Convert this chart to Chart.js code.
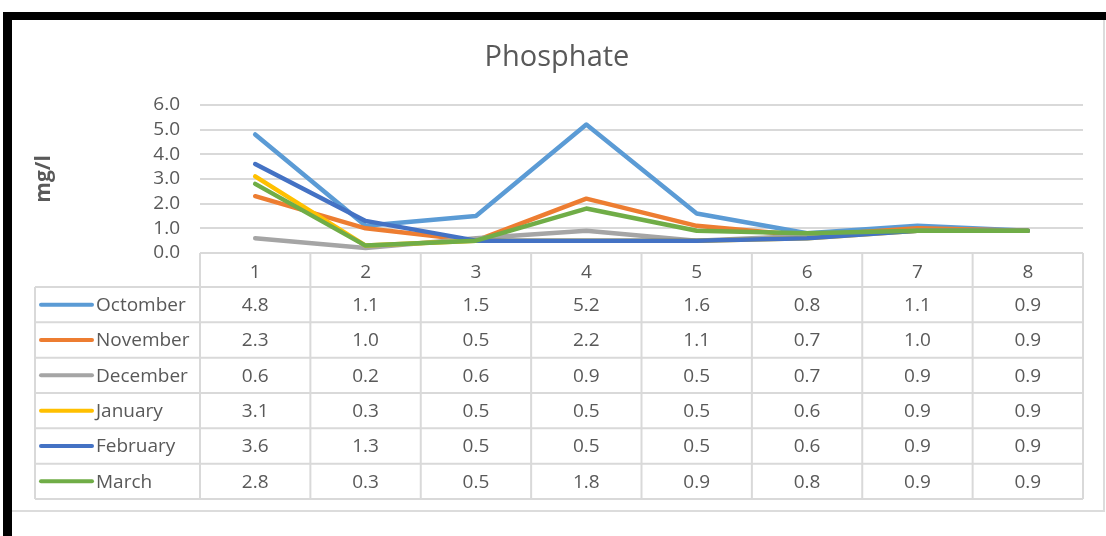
<!DOCTYPE html>
<html>
<head>
<meta charset="utf-8">
<title>Phosphate</title>
<script src="https://cdn.jsdelivr.net/npm/chart.js@4.4.1/dist/chart.umd.min.js"></script>
<style>
    html, body { margin: 0; padding: 0; background: #fff; }
    #wrap { position: relative; width: 1106px; height: 536px; overflow: hidden; }
    #chart { position: absolute; left: 0; top: 0; }
    .frame {
        position: absolute; left: 3px; top: 12px; right: 0; bottom: -20px;
        border-top: 8px solid #000; border-left: 9px solid #000;
    }
    .inner {
        position: absolute; left: 12px; top: 20px; width: 1091px; height: 490px;
        border-right: 2px solid #dcdcdc; border-bottom: 2px solid #dcdcdc;
    }
</style>
</head>
<body>
<div id="wrap">
    <canvas id="chart" width="1106" height="536"></canvas>
    <div class="inner"></div>
    <div class="frame"></div>
</div>
<script>
// Phosphate chart - line chart with Excel style data table
(function () {
    const categories = ['1', '2', '3', '4', '5', '6', '7', '8'];

    const seriesNames = ['Octomber', 'November', 'December', 'January', 'February', 'March'];

    const october  = [4.8, 1.1, 1.5, 5.2, 1.6, 0.8, 1.1, 0.9];
    const november = [2.3, 1.0, 0.5, 2.2, 1.1, 0.7, 1.0, 0.9];
    const december = [0.6, 0.2, 0.6, 0.9, 0.5, 0.7, 0.9, 0.9];
    const january  = [3.1, 0.3, 0.5, 0.5, 0.5, 0.6, 0.9, 0.9];
    const february = [3.6, 1.3, 0.5, 0.5, 0.5, 0.6, 0.9, 0.9];
    const march    = [2.8, 0.3, 0.5, 1.8, 0.9, 0.8, 0.9, 0.9];

    const seriesValues = [october, november, december, january, february, march];
    const seriesColors = ['#5B9BD5', '#ED7D31', '#A5A5A5', '#FFC000', '#4472C4', '#70AD47'];

    const yTicks = [0, 1, 2, 3, 4, 5, 6];

    const TEXT = '#595959';
    const LINE = '#d9d9d9';

    Chart.defaults.font.family = '"Open Sans", sans-serif';

    // --- Data table drawn under the plot ---

    const TABLE_LEFT = 35;
    const HEADER_H = 34;
    const ROW_H = 35.33;

    const dataTable = {
        id: 'dataTable',
        afterDraw(chart) {
            const ctx = chart.ctx;
            const x = chart.scales.x;
            const top = chart.chartArea.bottom;
            const rowsTop = top + HEADER_H;
            const bottom = rowsTop + ROW_H * seriesNames.length;
            const colW = (x.right - x.left) / categories.length;

            ctx.save();
            ctx.strokeStyle = LINE;
            ctx.lineWidth = 2;
            ctx.beginPath();
            // header top line
            ctx.moveTo(x.left, top);
            ctx.lineTo(x.right, top);
            // row lines
            for (let r = 0; r <= seriesNames.length; r++) {
                const y = rowsTop + r * ROW_H;
                ctx.moveTo(TABLE_LEFT, y);
                ctx.lineTo(x.right, y);
            }
            // column lines
            for (let c = 0; c <= categories.length; c++) {
                const cx = x.left + c * colW;
                ctx.moveTo(cx, top);
                ctx.lineTo(cx, bottom);
            }
            ctx.moveTo(TABLE_LEFT, rowsTop);
            ctx.lineTo(TABLE_LEFT, bottom);
            ctx.stroke();

            ctx.font = '19px "Open Sans", sans-serif';
            ctx.fillStyle = TEXT;
            ctx.textBaseline = 'middle';

            seriesNames.forEach(function (name, r) {
                const cy = rowsTop + r * ROW_H + ROW_H / 2;

                // legend key
                ctx.strokeStyle = seriesColors[r];
                ctx.lineWidth = 4;
                ctx.lineCap = 'round';
                ctx.beginPath();
                ctx.moveTo(41, cy);
                ctx.lineTo(92, cy);
                ctx.stroke();

                ctx.textAlign = 'left';
                ctx.fillText(name, 96, cy + 1);

                ctx.textAlign = 'center';
                seriesValues[r].forEach(function (v, c) {
                    ctx.fillText(v.toFixed(1), x.getPixelForValue(c), cy + 1);
                });
            });
            ctx.restore();
        }
    };

    // --- Chart ---

    const datasets = seriesNames.map(function (name, i) {
        return {
            label: name,
            data: seriesValues[i],
            borderColor: seriesColors[i],
            backgroundColor: seriesColors[i],
            borderWidth: 4.5,
            borderCapStyle: 'round',
            borderJoinStyle: 'round',
            pointRadius: 0,
            tension: 0,
            order: seriesNames.length - 1 - i
        };
    });

    new Chart(document.getElementById('chart').getContext('2d'), {
        type: 'line',
        data: { labels: categories, datasets: datasets },
        options: {
            responsive: false,
            animation: false,
            layout: { padding: { top: 20, left: 31, right: 23, bottom: 37 } },
            plugins: {
                legend: { display: false },
                tooltip: { enabled: false },
                title: {
                    display: true,
                    text: 'Phosphate',
                    color: TEXT,
                    font: { size: 29, weight: 'normal' },
                    padding: { top: 20, bottom: 30 }
                }
            },
            scales: {
                x: {
                    offset: true,
                    grid: { display: false },
                    border: { display: false },
                    ticks: { color: TEXT, font: { size: 19 }, padding: 0 },
                    afterFit: function (s) { s.height = 246; }
                },
                y: {
                    min: yTicks[0],
                    max: yTicks[yTicks.length - 1],
                    afterBuildTicks: function (s) { s.ticks = yTicks.map(v => ({ value: v })); },
                    ticks: {
                        color: TEXT,
                        font: { size: 19 },
                        padding: 20,
                        autoSkip: false,
                        callback: v => Number(v).toFixed(1)
                    },
                    grid: { color: LINE, lineWidth: 2, drawTicks: false },
                    border: { display: false },
                    title: {
                        display: true,
                        text: 'mg/l',
                        color: TEXT,
                        font: { size: 21, weight: 'bold' },
                        padding: 0
                    },
                    afterFit: function (s) { s.width = 169; }
                }
            }
        },
        plugins: [dataTable]
    });
})();
</script>
</body>
</html>
